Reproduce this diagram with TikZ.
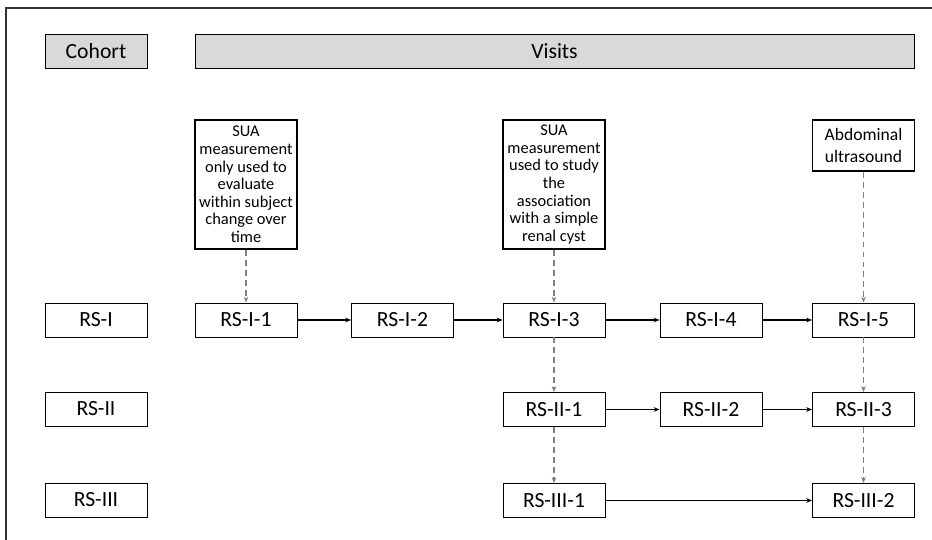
\documentclass[tikz,border=0pt]{standalone}
\usepackage{fontspec}
\setmainfont{Carlito}
\usetikzlibrary{positioning}
\usetikzlibrary{arrows.meta}

\tikzset{
  box/.style={draw, line width=0.8pt, minimum width=3.06cm, minimum height=1.02cm,
    inner sep=1pt, font=\fontsize{18.5}{21}\selectfont},
  headbox/.style={box, fill=black!15},
  notebox/.style={draw, line width=1.6pt, minimum width=3.06cm, inner sep=2pt,
    align=center, anchor=north, font=\fontsize{14}{15}\selectfont},
  flow/.style={-{Stealth[length=5pt,width=4pt]}, line width=1.1pt},
  link/.style={-{Stealth[length=5pt,width=4pt]}, line width=1.1pt, black!50,
    dash pattern=on 5pt off 3.5pt}
}

\begin{document}
\begin{tikzpicture}[x=0.03cm, y=-0.03cm]
  \useasboundingbox (0,0) rectangle (932,540);
  \draw[line width=1pt, black!80] (6,540) -- (6,8) -- (932,8);

  % headers
  \node[headbox] (cohort) at (96,51) {Cohort};
  \node[headbox, minimum width=21.57cm] (visits) at (554.5,51) {Visits};

  % cohorts
  \node[box] (rs1) at (96,320) {RS-I};
  \node[box] (rs2) at (96,409) {RS-II};
  \node[box] (rs3) at (96,500) {RS-III};

  % visits
  \node[box] (v11) at (246,320) {RS-I-1};
  \node[box] (v12) at (402.5,320) {RS-I-2};
  \node[box] (v13) at (554,320) {RS-I-3};
  \node[box] (v14) at (711,320) {RS-I-4};
  \node[box] (v15) at (863.5,320) {RS-I-5};
  \node[box] (v21) at (554,409.5) {RS-II-1};
  \node[box] (v22) at (711,409.5) {RS-II-2};
  \node[box] (v23) at (863.5,409.5) {RS-II-3};
  \node[box] (v31) at (554,500.5) {RS-III-1};
  \node[box] (v32) at (863.5,500.5) {RS-III-2};

  % notes
  \node[notebox, minimum height=3.87cm] (n1) at (246,119)
    {SUA\\measurement\\only used to\\evaluate\\within subject\\change over\\time};
  \node[notebox, minimum height=3.87cm] (n2) at (554,119)
    {SUA\\measurement\\used to study\\the\\association\\with a simple\\renal cyst};
  \node[notebox, minimum height=1.53cm, font=\fontsize{15}{18}\selectfont] (n3) at (863.5,119)
    {Abdominal\\ultrasound};

  % follow-up
  \draw[flow] (v11) -- (v12);
  \draw[flow] (v12) -- (v13);
  \draw[flow] (v13) -- (v14);
  \draw[flow] (v14) -- (v15);
  \draw[flow] (v21) -- (v22);
  \draw[flow] (v22) -- (v23);
  \draw[flow] (v31) -- (v32);

  \draw[link] (n1) -- (v11);
  \draw[link] (n2) -- (v13);
  \draw[link] (n3) -- (v15);
  \draw[link] (v13) -- (v21);
  \draw[link] (v21) -- (v31);
  \draw[link] (v15) -- (v23);
  \draw[link] (v23) -- (v32);
\end{tikzpicture}
\end{document}
